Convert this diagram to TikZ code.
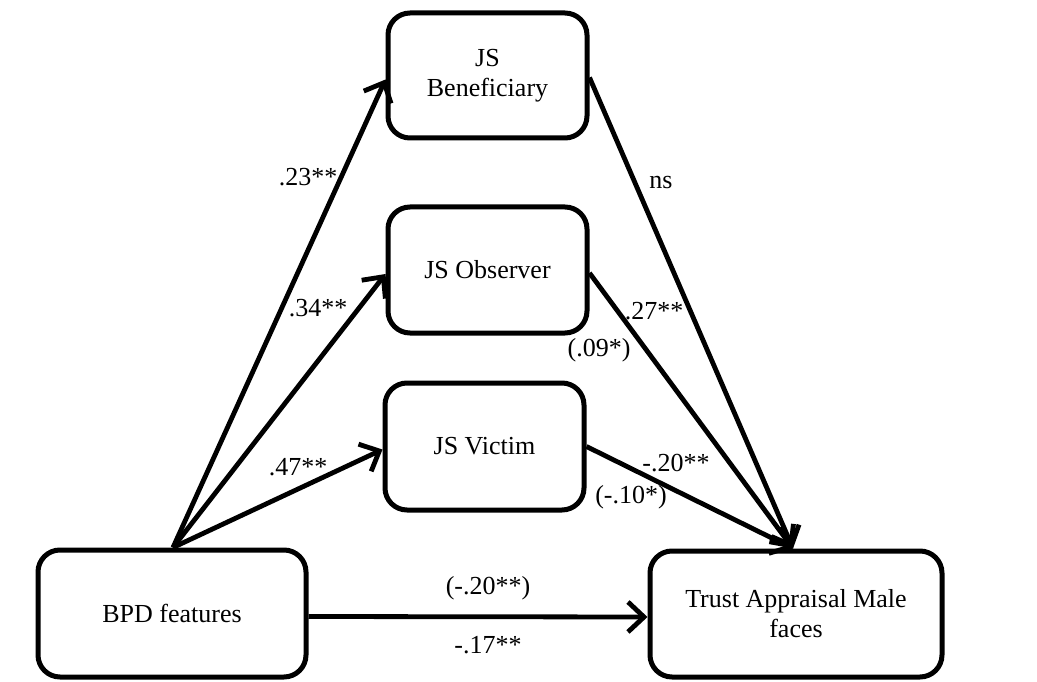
\documentclass[tikz,border=0pt]{standalone}
\usepackage{fontspec}
\setmainfont{Liberation Serif}
\usetikzlibrary{arrows.meta}
\begin{document}
\begin{tikzpicture}[x=1pt,y=-1pt,
  box/.style={draw=black, line width=5pt, rounded corners=22pt, fill=white, align=center,
    font=\fontsize{26}{30}\selectfont, inner sep=0pt},
  conn/.style={line width=4.8pt, -{Straight Barb[length=16pt,width=30pt,line width=4.8pt]}},
  lbl/.style={font=\fontsize{26}{30}\selectfont, inner sep=0pt}]
\useasboundingbox (0,0) rectangle (1037,682);
\node[box, minimum width=199pt, minimum height=125pt] (ben) at (487.5,75.5) {JS\\Beneficiary};
\node[box, minimum width=199pt, minimum height=126pt] (obs) at (487.5,270) {JS Observer};
\node[box, minimum width=199pt, minimum height=127pt] (vic) at (484.5,446.5) {JS Victim};
\node[box, minimum width=268pt, minimum height=127pt] (bpd) at (172,613.5) {BPD features};
\node[box, minimum width=292pt, minimum height=126pt] (tr) at (796,614) {Trust Appraisal Male\\faces};
\coordinate (src) at ([xshift=1pt]bpd.north);
\coordinate (dst) at ([xshift=-3pt]tr.north);
\draw[conn] (src) -- ([yshift=-4pt]ben.west);
\draw[conn] (src) -- ([yshift=-4pt]obs.west);
\draw[conn] (src) -- ([yshift=-3pt]vic.west);
\draw[conn] ([yshift=-2pt]ben.east) -- (dst);
\draw[conn] ([yshift=-3pt]obs.east) -- (dst);
\draw[conn] (vic.east) -- (dst);
\draw[conn] ([yshift=-3pt]bpd.east) -- ([yshift=-3pt]tr.west);
\node[lbl] (l1) at (308,177) {.23**};
\node[lbl] (l2) at (318,308) {.34**};
\node[lbl] (l3) at (298,467) {.47**};
\node[lbl] (l4) at (661,183) {ns};
\node[lbl] (l5) at (654,311) {.27**};
\node[lbl] (l6) at (599,350) {(.09*)};
\node[lbl] (l7) at (676,463) {-.20**};
\node[lbl] (l8) at (631,497) {(-.10*)};
\node[lbl] (l9) at (488,588) {(-.20**)};
\node[lbl] (l10) at (488,645) {-.17**};
\end{tikzpicture}
\end{document}
